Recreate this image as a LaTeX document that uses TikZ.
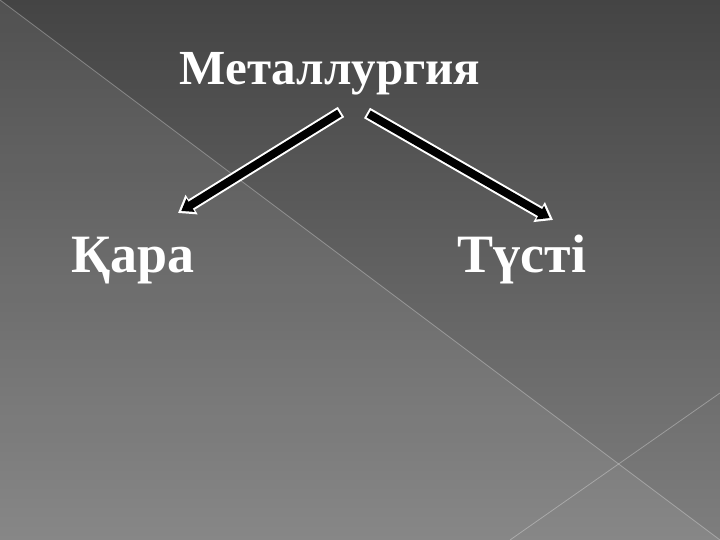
\documentclass[tikz,border=0pt]{standalone}
\usepackage{fontspec}
\setmainfont{Liberation Serif}
\usepackage{tikz}
\usetikzlibrary{
  	positioning,
  	arrows.meta,
  	calc
  }
\definecolor{bgtop}{HTML}{444444}
\definecolor{bgbot}{HTML}{7E7E7E}
\tikzstyle{word}=[text=white,font=\bfseries\fontsize{54}{64}\selectfont,inner sep=0pt]
\tikzstyle{title}=[word,font=\bfseries\fontsize{49}{60}\selectfont]
\tikzstyle{arrback}=[white,line width=12pt,-{Triangle[length=16pt,width=22pt]}]
\tikzstyle{arrfront}=[black,line width=8pt,shorten <=2pt,shorten >=3.8pt,-{Triangle[length=11pt,width=15pt]}]

\begin{document}
\begin{tikzpicture}[x=1pt,y=1pt]
  \useasboundingbox (0,0) rectangle (720,540);
  \shade [top color=bgtop, bottom color=bgbot] (0,0) rectangle (720,540);
  \fill [white, opacity=0.07] (0,540) -- (720,0) -- (0,0) -- cycle;
  \draw [white, opacity=0.3, line width=0.8pt] (0,540) -- (720,0);
  \draw [white, opacity=0.3, line width=0.8pt] (510,0) -- (720,147);
%
  \node [title, anchor=base] (metal) at (330,455) {Металлургия};
  \path (metal.base)++(-197,-188) node [word, anchor=base] (kara) {Қара};
  \path (metal.base)++(192,-188) node [word, anchor=base] (tusti) {Түсті};
%
  \draw [arrback]  ($(metal.base)+(11,-27)$) -- ($(kara.base)+(45,60)$);
  \draw [arrfront] ($(metal.base)+(11,-27)$) -- ($(kara.base)+(45,60)$);
  \draw [arrback]  ($(metal.base)+(37,-28)$) -- ($(tusti.base)+(31,53)$);
  \draw [arrfront] ($(metal.base)+(37,-28)$) -- ($(tusti.base)+(31,53)$);
\end{tikzpicture}
\end{document}
